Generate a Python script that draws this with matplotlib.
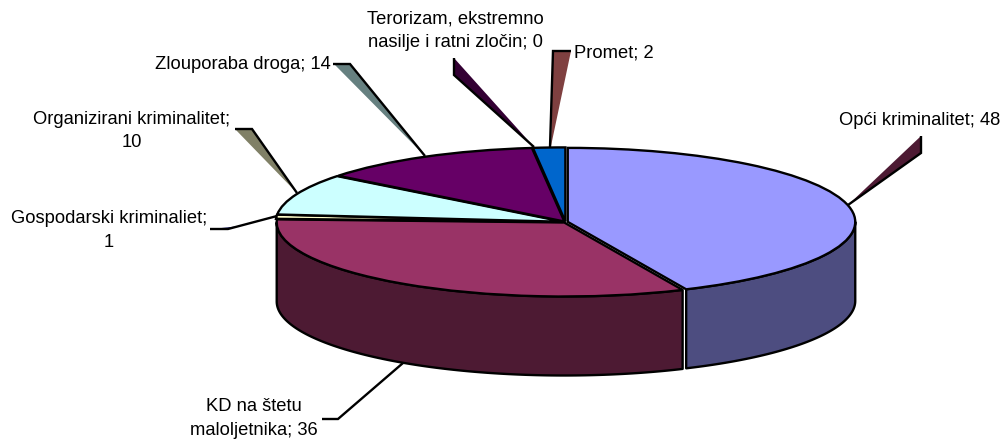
import numpy as np
import matplotlib
matplotlib.use("Agg")
import matplotlib.pyplot as plt
from matplotlib.patches import Polygon
from matplotlib.transforms import Affine2D

plt.rcParams['font.family'] = ['Liberation Sans', 'DejaVu Sans']

# --- data ---
categories = ["Opći kriminalitet", "KD na štetu maloljetnika", "Gospodarski kriminaliet",
              "Organizirani kriminalitet", "Zlouporaba droga",
              "Terorizam, ekstremno nasilje i ratni zločin", "Promet"]
values = [48, 36, 1, 10, 14, 0, 2]
top_colors = ["#9999FF", "#993366", "#FFFFCC", "#CCFFFF", "#660066", "#FF8080", "#0066CC"]
wall_colors = {0: "#4D4D80", 1: "#4D1A33"}

# --- layout (pixels of the 1003x441 canvas) ---
W, H = 1003, 441
CX, CY, RX, RY, DEPTH = 565.5, 222.0, 287.5, 74.0, 79.0
EXPLODE = 0.008
LW = 1.7

fig = plt.figure(figsize=(W / 100, H / 100), dpi=100, facecolor="white")
ax = fig.add_axes([0, 0, 1, 1])
px = Affine2D().scale(1, -1).translate(0, H)   # pixel coordinates -> display

wedges, _ = ax.pie(values, colors=top_colors, startangle=90, counterclock=False,
                   explode=[EXPLODE] * len(values), radius=1,
                   wedgeprops=dict(edgecolor="black", linewidth=LW, zorder=3))
ax.set_aspect("auto")
ax.set_xlim(-CX / RX, (W - CX) / RX)
ax.set_ylim(-(H - CY) / RY, CY / RY)
ax.axis("off")

# side walls, built from the same slice angles (clockwise from 12 o'clock)
edges = np.cumsum([0] + values) / sum(values) * 360
for i, (lo, hi) in {0: (90, edges[1]), 1: (edges[1], 270)}.items():
    mid = np.radians((edges[i] + edges[i + 1]) / 2)
    ox, oy = EXPLODE * np.sin(mid), EXPLODE * np.cos(mid)
    th = np.radians(np.linspace(lo, hi, 120))
    x, y = np.sin(th) + ox, np.cos(th) + oy
    d = DEPTH / RY
    ax.fill(np.r_[x, x[::-1]], np.r_[y, y[::-1] - d], facecolor=wall_colors[i],
            edgecolor="black", linewidth=LW, zorder=2, joinstyle="round")

# leader lines: shaded triangle + black outline, in pixels
leaders = [
    ("#4D1A33", [(921, 136), (921, 153), (848, 205)], [(921, 136), (921, 153), (848, 205)]),
    ("#7F4040", [(553, 51), (571, 51), (551, 146)], [(571, 51), (553, 51), (550, 147)]),
    ("#330033", [(454, 58), (454, 75), (534, 147)], [(454, 58), (454, 75), (534, 147)]),
    ("#668080", [(334, 64), (350, 64), (425, 156)], [(333, 64), (350, 64), (425, 156)]),
    ("#808066", [(235, 129), (252, 129), (297, 193)], [(235, 129), (252, 129), (297, 193)]),
    ("#1A1A66", [(212, 229), (228, 229), (240, 226)], [(210, 229), (228, 229), (277, 216)]),
    (None, None, [(322, 419), (338, 419), (403, 363)]),
]
for fill, tri, line in leaders:
    if tri is not None:
        ax.add_patch(Polygon(tri, closed=True, transform=px, facecolor=fill,
                             edgecolor="none", zorder=1, clip_on=False))
    xs, ys = zip(*line)
    ax.plot(xs, ys, transform=px, color="black", lw=LW, zorder=1.5,
            solid_joinstyle="miter", solid_capstyle="butt", clip_on=False)

# data labels
labels = [
    ("Opći kriminalitet; 48", 920, 120.5, "center"),
    ("KD na štetu\nmaloljetnika; 36", 254, 418.5, "center"),
    ("Gospodarski kriminaliet;\n1", 109, 230.5, "center"),
    ("Organizirani kriminalitet;\n10", 132, 131, "center"),
    ("Zlouporaba droga; 14", 243, 64.5, "center"),
    ("Terorizam, ekstremno\nnasilje i ratni zločin; 0", 455, 30.5, "center"),
    ("Promet; 2", 614, 52.5, "center"),
]
for s, x, y, ha in labels:
    ax.text(x, y, s, transform=px, ha=ha, va="center", ma="center", fontsize=13.2,
            color="black", linespacing=1.5, zorder=5, clip_on=False)

fig.savefig("out.png", dpi=100, facecolor="white")
